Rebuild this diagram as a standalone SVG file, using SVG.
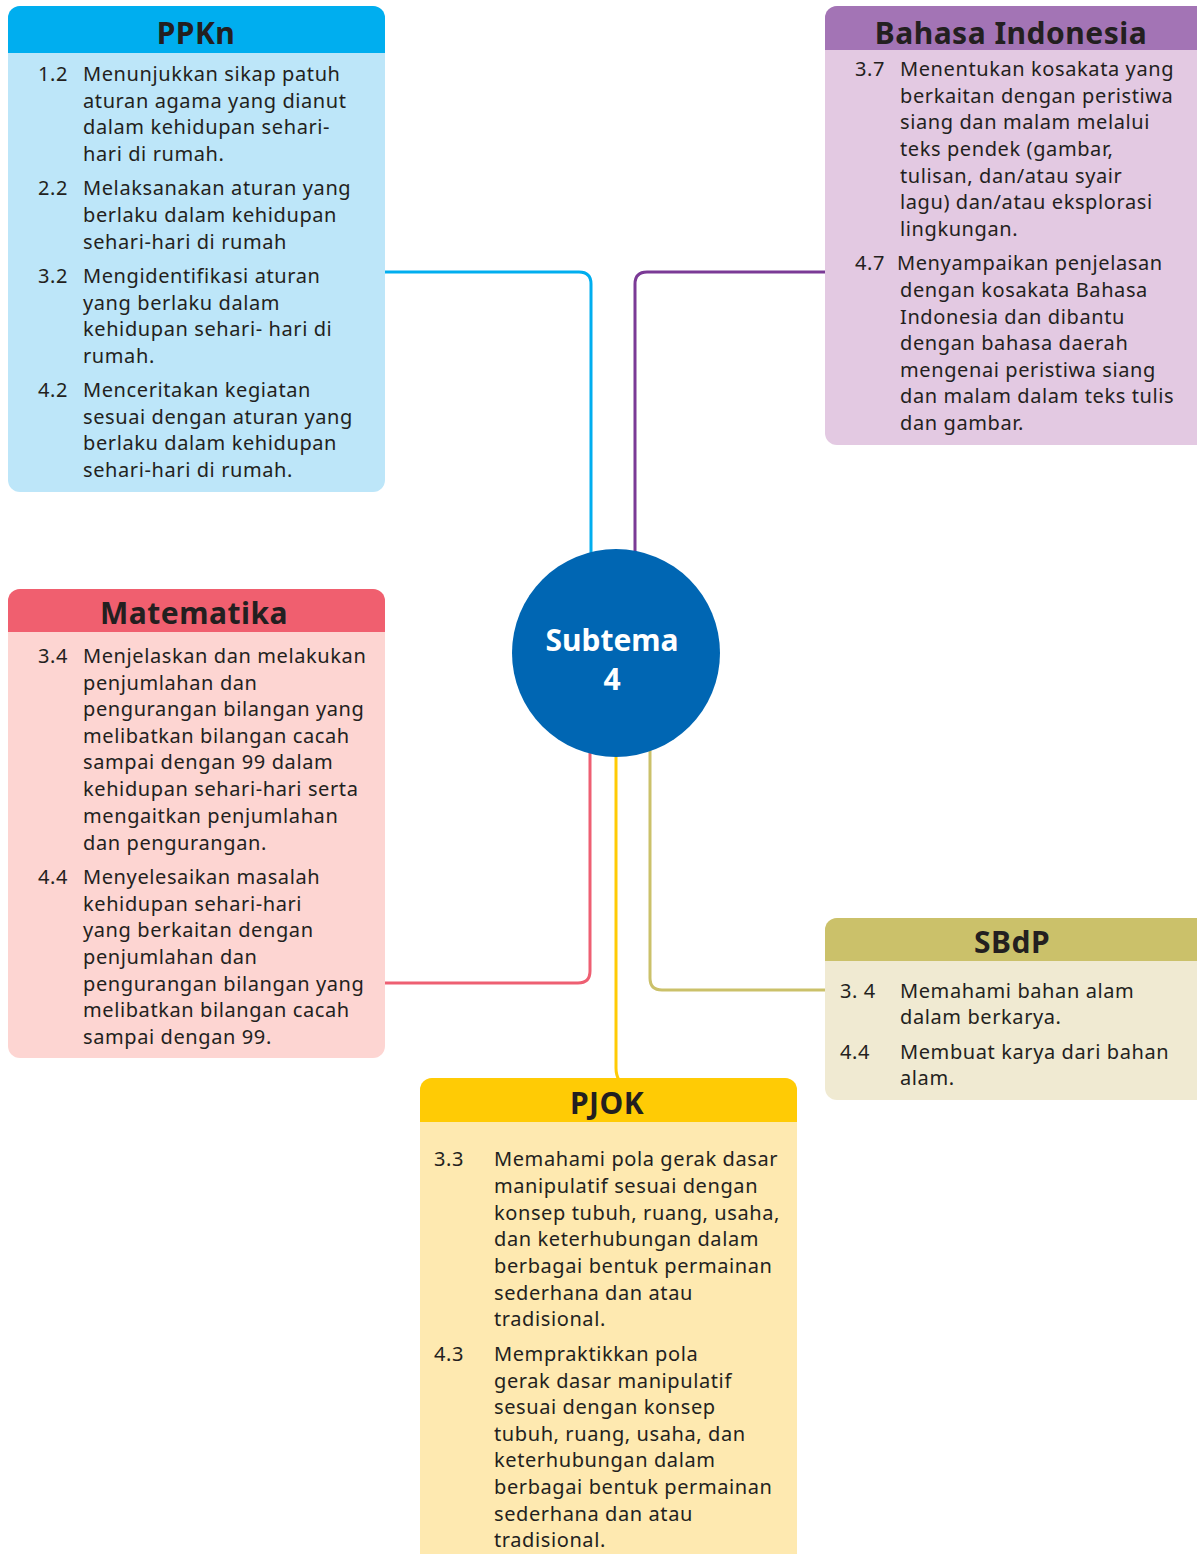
<svg xmlns="http://www.w3.org/2000/svg" width="1197" height="1554" viewBox="0 0 1197 1554">
<style>
.t{font-family:"Noto Sans","Open Sans","DejaVu Sans",sans-serif;font-size:20px;letter-spacing:0.6px;fill:#231F20}
.h{font-family:"Noto Sans","Open Sans","DejaVu Sans",sans-serif;font-size:30px;font-weight:bold;letter-spacing:0.5px;fill:#231F20;text-anchor:middle}
.c{fill:none;stroke-width:3}
.s{font-family:"Noto Sans","Open Sans","DejaVu Sans",sans-serif;font-size:30px;font-weight:bold;fill:#FFFFFF;text-anchor:middle}
</style>
<rect width="1197" height="1554" fill="#FFFFFF"/>
<g id="connectors">
<path class="c" stroke="#00AEEF" d="M385,272 H579 Q591,272 591,284 V565"/>
<path class="c" stroke="#7B3A96" d="M825,272 H647 Q635,272 635,284 V565"/>
<path class="c" stroke="#EE5F72" d="M590,740 V971 Q590,983 578,983 H385"/>
<path class="c" stroke="#FFCB05" d="M616,740 V1068 Q616,1075 619,1080"/>
<path class="c" stroke="#CBC16A" d="M650,740 V978 Q650,990 662,990 H825"/>
</g>
<g id="center">
<circle cx="616" cy="653" r="104" fill="#0066B3"/>
<text class="s" x="612" y="651">Subtema</text>
<text class="s" x="612" y="690">4</text>
</g>
<g id="ppkn">
<rect x="8" y="6" width="377" height="486" rx="12" fill="#BDE6F9"/>
<path d="M8,53 V18 A12,12 0 0 1 20,6 H373 A12,12 0 0 1 385,18 V53 Z" fill="#00AEEF"/>
<text class="h" x="196" y="44">PPKn</text>
<text class="t" x="38" y="81">1.2</text>
<text class="t" x="83" y="81">Menunjukkan sikap patuh</text>
<text class="t" x="83" y="108">aturan agama yang dianut</text>
<text class="t" x="83" y="134">dalam kehidupan sehari-</text>
<text class="t" x="83" y="161">hari di rumah.</text>
<text class="t" x="38" y="195">2.2</text>
<text class="t" x="83" y="195">Melaksanakan aturan yang</text>
<text class="t" x="83" y="222">berlaku dalam kehidupan</text>
<text class="t" x="83" y="249">sehari-hari di rumah</text>
<text class="t" x="38" y="283">3.2</text>
<text class="t" x="83" y="283">Mengidentifikasi aturan</text>
<text class="t" x="83" y="310">yang berlaku dalam</text>
<text class="t" x="83" y="336">kehidupan sehari- hari di</text>
<text class="t" x="83" y="363">rumah.</text>
<text class="t" x="38" y="397">4.2</text>
<text class="t" x="83" y="397">Menceritakan kegiatan</text>
<text class="t" x="83" y="424">sesuai dengan aturan yang</text>
<text class="t" x="83" y="450">berlaku dalam kehidupan</text>
<text class="t" x="83" y="477">sehari-hari di rumah.</text>
</g>
<g id="bahasa">
<rect x="825" y="6" width="385" height="439" rx="12" fill="#E3C9E2"/>
<path d="M825,50 V18 A12,12 0 0 1 837,6 H1198 A12,12 0 0 1 1210,18 V50 Z" fill="#A374B5"/>
<text class="h" x="1011" y="44">Bahasa Indonesia</text>
<text class="t" x="855" y="76">3.7</text>
<text class="t" x="900" y="76">Menentukan kosakata yang</text>
<text class="t" x="900" y="103">berkaitan dengan peristiwa</text>
<text class="t" x="900" y="129">siang dan malam melalui</text>
<text class="t" x="900" y="156">teks pendek (gambar,</text>
<text class="t" x="900" y="183">tulisan, dan/atau syair</text>
<text class="t" x="900" y="209">lagu) dan/atau eksplorasi</text>
<text class="t" x="900" y="236">lingkungan.</text>
<text class="t" x="855" y="270">4.7</text>
<text class="t" x="897" y="270">Menyampaikan penjelasan</text>
<text class="t" x="900" y="297">dengan kosakata Bahasa</text>
<text class="t" x="900" y="324">Indonesia dan dibantu</text>
<text class="t" x="900" y="350">dengan bahasa daerah</text>
<text class="t" x="900" y="377">mengenai peristiwa siang</text>
<text class="t" x="900" y="403">dan malam  dalam teks tulis</text>
<text class="t" x="900" y="430">dan gambar.</text>
</g>
<g id="matematika">
<rect x="8" y="589" width="377" height="469" rx="12" fill="#FDD5D2"/>
<path d="M8,632 V601 A12,12 0 0 1 20,589 H373 A12,12 0 0 1 385,601 V632 Z" fill="#F05F6F"/>
<text class="h" x="194" y="624">Matematika</text>
<text class="t" x="38" y="663">3.4</text>
<text class="t" x="83" y="663">Menjelaskan dan melakukan</text>
<text class="t" x="83" y="690">penjumlahan dan</text>
<text class="t" x="83" y="716">pengurangan bilangan yang</text>
<text class="t" x="83" y="743">melibatkan bilangan cacah</text>
<text class="t" x="83" y="769">sampai dengan 99 dalam</text>
<text class="t" x="83" y="796">kehidupan sehari-hari serta</text>
<text class="t" x="83" y="823">mengaitkan penjumlahan</text>
<text class="t" x="83" y="850">dan pengurangan.</text>
<text class="t" x="38" y="884">4.4</text>
<text class="t" x="83" y="884">Menyelesaikan masalah</text>
<text class="t" x="83" y="911">kehidupan sehari-hari</text>
<text class="t" x="83" y="937">yang berkaitan dengan</text>
<text class="t" x="83" y="964">penjumlahan dan</text>
<text class="t" x="83" y="991">pengurangan bilangan yang</text>
<text class="t" x="83" y="1017">melibatkan bilangan cacah</text>
<text class="t" x="83" y="1044">sampai dengan 99.</text>
</g>
<g id="sbdp">
<rect x="825" y="918" width="385" height="182" rx="12" fill="#F0EAD2"/>
<path d="M825,961 V930 A12,12 0 0 1 837,918 H1198 A12,12 0 0 1 1210,930 V961 Z" fill="#CBC16A"/>
<text class="h" x="1012" y="953">SBdP</text>
<text class="t" x="840" y="998">3. 4</text>
<text class="t" x="900" y="998">Memahami bahan alam</text>
<text class="t" x="900" y="1024">dalam berkarya.</text>
<text class="t" x="840" y="1059">4.4</text>
<text class="t" x="900" y="1059">Membuat karya dari bahan</text>
<text class="t" x="900" y="1085">alam.</text>
</g>
<g id="pjok">
<rect x="420" y="1078" width="377" height="490" rx="12" fill="#FEE9B0"/>
<path d="M420,1122 V1090 A12,12 0 0 1 432,1078 H785 A12,12 0 0 1 797,1090 V1122 Z" fill="#FFCB05"/>
<text class="h" x="607" y="1114">PJOK</text>
<text class="t" x="434" y="1166">3.3</text>
<text class="t" x="494" y="1166">Memahami pola gerak dasar</text>
<text class="t" x="494" y="1193">manipulatif sesuai dengan</text>
<text class="t" x="494" y="1220">konsep tubuh, ruang, usaha,</text>
<text class="t" x="494" y="1246">dan keterhubungan dalam</text>
<text class="t" x="494" y="1273">berbagai bentuk permainan</text>
<text class="t" x="494" y="1300">sederhana dan atau</text>
<text class="t" x="494" y="1326">tradisional.</text>
<text class="t" x="434" y="1361">4.3</text>
<text class="t" x="494" y="1361">Mempraktikkan pola</text>
<text class="t" x="494" y="1388">gerak dasar manipulatif</text>
<text class="t" x="494" y="1414">sesuai dengan konsep</text>
<text class="t" x="494" y="1441">tubuh, ruang, usaha, dan</text>
<text class="t" x="494" y="1467">keterhubungan dalam</text>
<text class="t" x="494" y="1494">berbagai bentuk permainan</text>
<text class="t" x="494" y="1521">sederhana dan atau</text>
<text class="t" x="494" y="1547">tradisional.</text>
</g>
</svg>
